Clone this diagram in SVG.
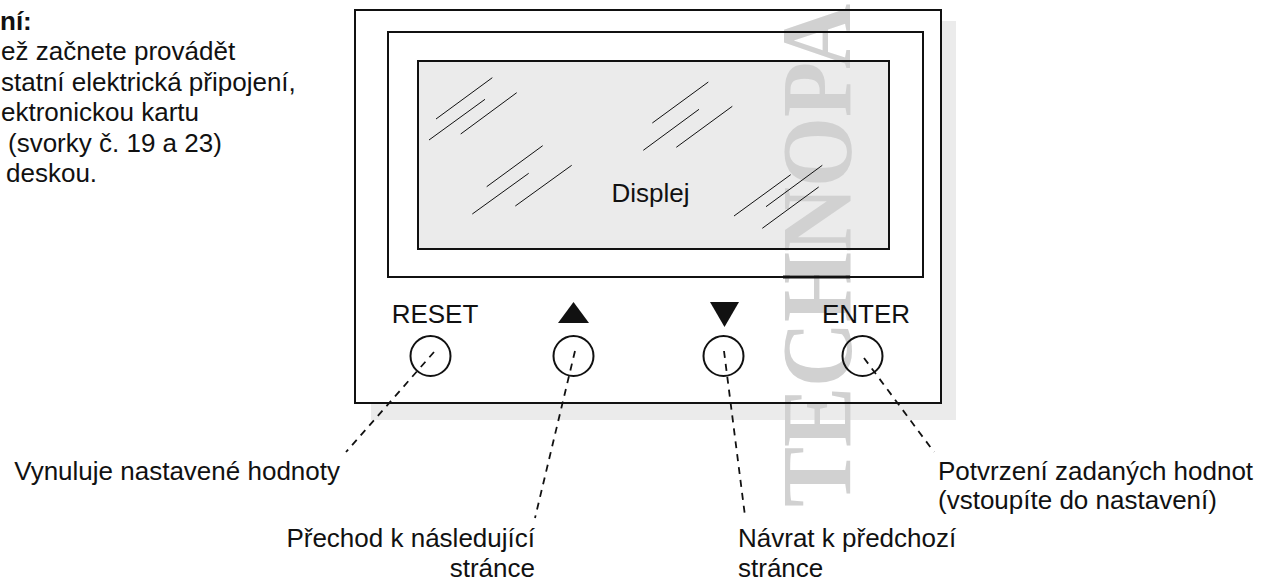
<svg xmlns="http://www.w3.org/2000/svg" width="1264" height="581" viewBox="0 0 1264 581">
  <style>
    text { font-family: "Liberation Sans", Arial, Helvetica, sans-serif; fill: #111; }
    .lbl { font-size: 26px; }
    .note { font-size: 26px; }
    .frame { fill: none; stroke: #111; stroke-width: 2; }
    .glass { stroke: #111; stroke-width: 1; fill: none; }
    .btn { fill: none; stroke: #111; stroke-width: 2; }
    .lead { fill: none; stroke: #111; stroke-width: 1.8; stroke-dasharray: 7 6; }
    .mark { font-family: "Liberation Serif", "Times New Roman", serif; font-weight: bold; font-size: 100px; fill: #d1d1d1; }
  </style>

  <rect width="1264" height="581" fill="#fff"/>

  <!-- note text, clipped at the left edge -->
  <g id="note">
    <text class="note" x="0" y="29.5" font-weight="bold">ní:</text>
    <text class="note" x="1" y="60">ež začnete provádět</text>
    <text class="note" x="1" y="90.5">statní elektrická připojení,</text>
    <text class="note" x="1" y="121">ektronickou kartu</text>
    <text class="note" x="8" y="151.5">(svorky č. 19 a 23)</text>
    <text class="note" x="6" y="182">deskou.</text>
  </g>

  <!-- panel body: drop shadow, faces -->
  <g id="panel-fill">
    <rect x="371" y="21" width="585" height="399" fill="#ebebeb"/>
    <rect x="355" y="10" width="586" height="393" fill="#fff"/>
    <rect x="418" y="61" width="471" height="188" fill="#ebebeb"/>
  </g>

  <!-- vertical watermark lettering -->
  <text class="mark" transform="translate(850,507) rotate(-90) scale(0.9,1)">TECHNOPA</text>

  <g id="panel">
    <rect class="frame" x="355" y="10" width="586" height="393"/>
    <rect class="frame" x="388" y="32" width="535" height="245"/>
    <line x1="783" y1="277" x2="850" y2="277" stroke="#111" stroke-width="3"/>
  </g>

  <g id="display">
    <rect class="frame" x="418" y="61" width="471" height="188" stroke-width="1.8"/>
    <g class="glass">
      <line x1="436" y1="119" x2="492.3" y2="77.7"/>
      <line x1="429" y1="140" x2="485" y2="99.3"/>
      <line x1="460.7" y1="134" x2="516.7" y2="92.7"/>
      <line x1="652.3" y1="123" x2="708.3" y2="82"/>
      <line x1="643.3" y1="150.3" x2="699" y2="109.3"/>
      <line x1="676.3" y1="147.3" x2="732.3" y2="106.3"/>
      <line x1="486.7" y1="186.7" x2="542.7" y2="145.7"/>
      <line x1="472.3" y1="214" x2="528.7" y2="173.3"/>
      <line x1="515.3" y1="206" x2="571.7" y2="165.3"/>
      <line x1="734" y1="216" x2="790.7" y2="174.7"/>
      <line x1="766" y1="206.7" x2="822.3" y2="165.3"/>
      <line x1="762.3" y1="228.3" x2="818.7" y2="187"/>
    </g>
    <text class="lbl" x="650.5" y="202" text-anchor="middle">Displej</text>
  </g>

  <g id="btn-reset">
    <text class="lbl" x="435" y="322.5" text-anchor="middle">RESET</text>
    <circle class="btn" cx="430.5" cy="356" r="20"/>
  </g>
  <g id="btn-up">
    <polygon points="558,323 573.5,302 589,323" fill="#111"/>
    <circle class="btn" cx="573.5" cy="356" r="20"/>
  </g>
  <g id="btn-down">
    <polygon points="710,302 739,302 724.5,327" fill="#111"/>
    <circle class="btn" cx="723.5" cy="356" r="20"/>
  </g>
  <g id="btn-enter">
    <text class="lbl" x="866" y="322.5" text-anchor="middle">ENTER</text>
    <circle class="btn" cx="862.5" cy="356" r="20"/>
  </g>

  <g id="connectors">
    <line class="lead" x1="434" y1="352" x2="346" y2="452"/>
    <line class="lead" x1="575" y1="351" x2="535" y2="518"/>
    <line class="lead" x1="724" y1="351" x2="745" y2="516"/>
    <line class="lead" x1="864" y1="358" x2="934" y2="452"/>
  </g>

  <g id="captions">
    <text class="lbl" x="340" y="480" text-anchor="end">Vynuluje nastavené hodnoty</text>
    <text class="lbl" x="535" y="547" text-anchor="end">Přechod k následující</text>
    <text class="lbl" x="535" y="577" text-anchor="end">stránce</text>
    <text class="lbl" x="738" y="547">Návrat k předchozí</text>
    <text class="lbl" x="738" y="577">stránce</text>
    <text class="lbl" x="938" y="480">Potvrzení zadaných hodnot</text>
    <text class="lbl" x="938" y="509">(vstoupíte do nastavení)</text>
  </g>
</svg>
